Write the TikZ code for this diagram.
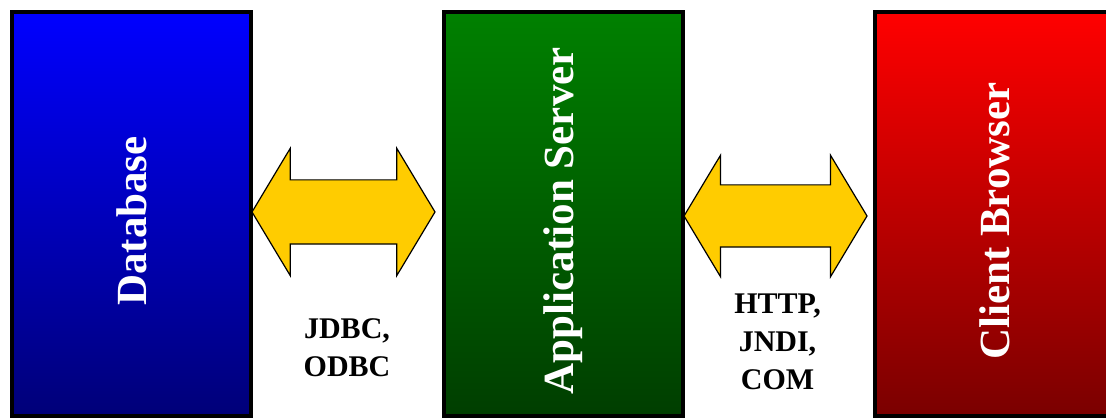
\documentclass[tikz,border=0pt]{standalone}
\usepackage{fontspec}
\setmainfont{Liberation Serif}
\usetikzlibrary{positioning,shapes.arrows}

\definecolor{dbtop}{RGB}{0,0,255}
\definecolor{dbbottom}{RGB}{0,0,120}
\definecolor{apptop}{RGB}{0,128,0}
\definecolor{appbottom}{RGB}{0,62,0}
\definecolor{clienttop}{RGB}{255,0,0}
\definecolor{clientbottom}{RGB}{122,0,0}
\definecolor{linkfill}{RGB}{255,204,0}

\begin{document}
\begin{tikzpicture}[
    x=1pt,
    y=1pt,
    node distance=432pt,
    font=\bfseries,
    tier/.style={
		rectangle,
		draw=black,
		line width=4pt,
		text=white,
		text centered,
		minimum width=239pt,
		minimum height=404pt,
		font=\bfseries\fontsize{43}{47}\selectfont
	},
	link/.style={
		double arrow,
		draw=black,
		line width=1.2pt,
		fill=linkfill,
		inner xsep=0pt,
		inner ysep=31.5pt,
		minimum height=183pt,
		minimum width=126pt,
		double arrow head extend=31.5pt,
		double arrow tip angle=118
	},
	proto/.style={
		align=center,
		inner sep=0pt,
		font=\bfseries\fontsize{30}{38}\selectfont
	}
  ]

\useasboundingbox (0,0) rectangle (1106,419);

% the three tiers
 \node [tier, top color=dbtop, bottom color=dbbottom] (db) at (131.5,205) {\rotatebox{90}{Database\hspace{14pt}}};
 \node [tier, right of=db, top color=apptop, bottom color=appbottom] (app) {\rotatebox{90}{Application Server\hspace{14pt}}};
 \node [tier, right of=app, xshift=-1pt, top color=clienttop, bottom color=clientbottom] (client) {\rotatebox{90}{Client Browser\hspace{14pt}}};

% the links between them
 \node [link, right of=db, node distance=212pt, yshift=2pt] (dblink) {};
 \node [link, right of=app, node distance=212pt, yshift=-2pt,
        inner ysep=30.5pt, minimum width=120pt, double arrow head extend=29.5pt] (weblink) {};

 \node [proto, below of=dblink, node distance=136pt, xshift=3.5pt] (dbproto) {JDBC,\\ODBC};
 \node [proto, below of=weblink, node distance=126pt, xshift=2pt] (webproto) {HTTP,\\JNDI,\\COM};

\end{tikzpicture}
\end{document}
